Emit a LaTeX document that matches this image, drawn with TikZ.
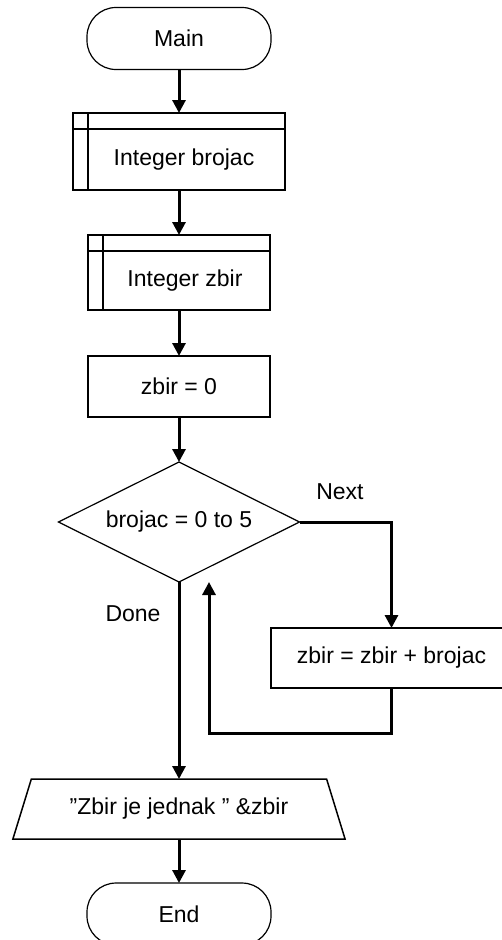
\documentclass[tikz,border=0pt]{standalone}
\usepackage{fontspec}
\setmainfont{Liberation Sans}
\usepackage{tikz}
\usetikzlibrary{arrows.meta,positioning,shapes.geometric}

\begin{document}
\begin{tikzpicture}[->,>={Triangle[width=13pt,length=13pt]},x=1pt,y=1pt,
	line width=3pt,node distance=44pt,
	every node/.style={font=\fontsize{23}{27}\selectfont,line width=1.2pt,outer sep=0pt},
	term/.style={draw,rectangle,rounded corners=29pt,minimum width=184pt,minimum height=62pt},
	proc/.style={draw,rectangle,line width=2pt,minimum height=61pt},
	predef/.style={proc,text height=32pt,text depth=5pt,path picture={
		\draw[-,line width=2pt] ([xshift=15pt]path picture bounding box.north west) -- ([xshift=15pt]path picture bounding box.south west);
		\draw[-,line width=2pt] ([yshift=-16pt]path picture bounding box.north west) -- ([yshift=-16pt]path picture bounding box.north east);}},
	cond/.style={draw,diamond,aspect=2,minimum width=241pt,minimum height=120pt,inner sep=0pt},
	io/.style={draw,trapezium,trapezium left angle=63.4,trapezium right angle=63.4,
		trapezium stretches=true,minimum width=333pt,minimum height=60pt,line width=1.5pt}]

	\useasboundingbox (0,0) rectangle (502,-940);
	\clip (0,0) rectangle (502,-940);

	\node[term] (main) at (179,-38.5) {Main};
	\node[predef,minimum width=212pt,minimum height=77pt] (brojac) [below=43.5pt of main] {\hspace{10pt}Integer brojac};
	\node[predef,minimum width=182pt,minimum height=75pt] (zbir) [below=45pt of brojac] {\hspace{12pt}Integer zbir};
	\node[proc,minimum width=182pt] (init) [below=46pt of zbir] {zbir = 0};
	\node[cond] (loop) [below=45pt of init] {brojac = 0 to 5};
	\node[proc,minimum width=242pt,minimum height=60pt,anchor=north] (add)
		at ([xshift=92pt,yshift=-106pt]loop.east) {zbir = zbir + brojac};
	\node[io] (out) [below=197pt of loop] {\symbol{34}Zbir je jednak \symbol{34} \&zbir};
	\node[term] (end) [below=44pt of out] {End};
	\coordinate[xshift=30pt] (back) at (loop.south);

	\draw (main) -- (brojac);
	\draw (brojac) -- (zbir);
	\draw (zbir) -- (init);
	\draw (init) -- (loop);
	\draw (loop.east) -| node[pos=0.22,yshift=30pt] {Next} (add.north);
	\draw (add.south) -- ++(0,-45) -| (back);
	\draw (loop.south) -- node[pos=0.16,xshift=-46pt] {Done} (out.north);
	\draw (out.south) -- (end.north);
\end{tikzpicture}
\end{document}
